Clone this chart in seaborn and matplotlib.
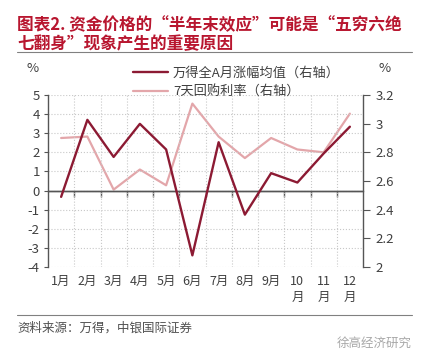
import numpy as np
import pandas as pd
import matplotlib
matplotlib.use('Agg')
import matplotlib.pyplot as plt
from matplotlib.lines import Line2D
import seaborn as sns

months = ['1月', '2月', '3月', '4月', '5月', '6月', '7月', '8月', '9月', '10\n月', '11\n月', '12\n月']
wind_a = [-0.33, 3.70, 1.76, 3.49, 2.15, -3.39, 2.53, -1.26, 0.91, 0.42, 1.94, 3.34]
repo7d = [2.90, 2.91, 2.54, 2.68, 2.57, 3.14, 2.91, 2.76, 2.90, 2.82, 2.80, 3.07]
left_ticks = [-4, -3, -2, -1, 0, 1, 2, 3, 4, 5]
right_ticks = [2, 2.2, 2.4, 2.6, 2.8, 3, 3.2]
right_tick_labels = ['2', '2.2', '2.4', '2.6', '2.8', '3', '3.2']
series_names = ['万得全A月涨幅均值（右轴）', '7天回购利率（右轴）']

DARK = '#8c1a33'
LIGHT = '#e3a6aa'
TITLE = '#b8162f'
GREY = '#404040'
SPINE = '#555555'

sns.set_style('white')
plt.rcParams['font.family'] = ['Noto Sans CJK SC', 'DejaVu Sans']
plt.rcParams['axes.unicode_minus'] = False

W, H = 430, 364
fig = plt.figure(figsize=(W / 100, H / 100), dpi=100)
ax = fig.add_axes([48 / W, 1 - 267 / H, 315 / W, 172 / H])
ax2 = ax.twinx()

df = pd.DataFrame({'idx': np.arange(len(months)), 'wind': wind_a, 'repo': repo7d})
sns.lineplot(data=df, x='idx', y='repo', ax=ax2, color=LIGHT, lw=1.6, legend=False)
sns.lineplot(data=df, x='idx', y='wind', ax=ax, color=DARK, lw=1.7, legend=False)
ax.set_zorder(ax2.get_zorder() + 1)
ax.patch.set_visible(False)

# left axis
ax.set_xlim(-0.5, len(months) - 0.5)
ax.set_ylim(-4, 5)
ax.set_yticks(left_ticks)
ax.set_yticklabels([str(v) for v in left_ticks])
ax.set_xticks(np.arange(len(months)))
ax.set_xticklabels(months)
ax.set_xticks(np.arange(0.5, len(months) - 0.5, 1), minor=True)
ax.tick_params(axis='x', which='both', length=0, pad=6, labelsize=9, colors=GREY)
ax.tick_params(axis='y', length=3, direction='out', pad=3, labelsize=9.5,
               colors=GREY, color=SPINE)
for t in ax.get_xticklabels():
    t.set_linespacing(1.3)
ax.set_xlabel('')
ax.set_ylabel('')
ax.grid(False)
ax.grid(True, axis='y', which='major', ls=':', color='#c8c8c8', lw=0.8)
ax.grid(True, axis='x', which='minor', ls=':', color='#c8c8c8', lw=0.8)
for s in ['top', 'bottom', 'right']:
    ax.spines[s].set_visible(False)
ax.spines['left'].set_color(SPINE)
ax.spines['left'].set_linewidth(1.0)
ax.axhline(0, color=SPINE, lw=1.0, zorder=1.5)

# right axis
ax2.set_ylim(2, 3.2)
ax2.set_yticks(right_ticks)
ax2.set_yticklabels(right_tick_labels)
ax2.set_ylabel('')
ax2.grid(False)
ax2.tick_params(axis='y', length=5, direction='out', pad=4, labelsize=9.5,
                colors=GREY, color=SPINE)
for s in ['top', 'bottom', 'left']:
    ax2.spines[s].set_visible(False)
ax2.spines['right'].set_color(SPINE)
ax2.spines['right'].set_linewidth(1.0)

# tick marks at category boundaries on the zero line
sec = ax.secondary_xaxis(4 / 9)
sec.set_xticks(np.arange(0.5, len(months) - 0.5, 1))
sec.tick_params(axis='x', length=4, width=1.0, direction='out', labelbottom=False,
                labeltop=False, color=SPINE)
for s in sec.spines.values():
    s.set_color(SPINE)
    s.set_linewidth(1.0)

# legend
handles = [Line2D([], [], color=DARK, lw=1.7), Line2D([], [], color=LIGHT, lw=1.6)]
fig.legend(handles, series_names, loc='upper left',
           bbox_to_anchor=(128 / W, 1 - 61 / H), frameon=False,
           fontsize=9.5, handlelength=2.6, handletextpad=0.4,
           labelspacing=0.45, labelcolor=GREY, borderaxespad=0)

# unit labels
fig.text(33 / W, 1 - 69 / H, '%', ha='center', va='center', fontsize=9.5, color=GREY)
fig.text(385 / W, 1 - 69 / H, '%', ha='center', va='center', fontsize=9.5, color=GREY)

# title
fig.text(17 / W, 1 - 25 / H, '图表2. 资金价格的“半年末效应”可能是“五穷六绝',
         ha='left', va='center', fontsize=12, fontweight='bold', color=TITLE)
fig.text(17 / W, 1 - 44 / H, '七翻身”现象产生的重要原因',
         ha='left', va='center', fontsize=12, fontweight='bold', color=TITLE)
fig.add_artist(Line2D([17 / W, 412 / W], [1 - 52 / H, 1 - 52 / H],
                      color='#808080', lw=0.8, transform=fig.transFigure))
fig.add_artist(Line2D([17 / W, 412 / W], [1 - 315 / H, 1 - 315 / H],
                      color='#808080', lw=0.8, transform=fig.transFigure))

# source and watermark
fig.text(17 / W, 1 - 328 / H, '资料来源：万得，中银国际证券',
         ha='left', va='center', fontsize=9, color='#505050')
fig.text(412 / W, 1 - 343 / H, '徐高经济研究',
         ha='right', va='center', fontsize=9, color='#a8a8a8')

fig.savefig('out.png', dpi=100)
